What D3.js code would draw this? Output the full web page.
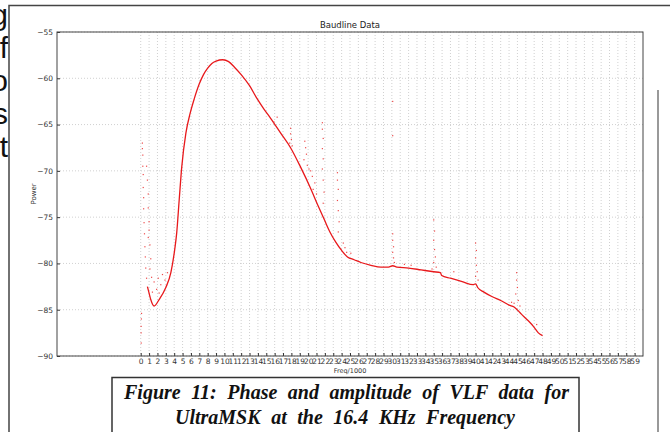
<!DOCTYPE html>
<html>
<head>
<meta charset="utf-8">
<script src="https://cdn.jsdelivr.net/npm/d3@7"></script>
<style>
  body { margin: 0; background: #fff; }
  svg { display: block; }
</style>
</head>
<body>
<div id="chart"></div>
<script>
// main trace (freq/1000, power)
const curveFreq = [0.8, 1.0, 1.2, 1.6, 2.2, 3.0, 3.6, 4.06, 4.3, 4.6, 4.9, 5.4, 5.9, 6.4, 7.0, 7.5, 8.0, 8.5, 9.0, 9.8, 10.5, 11.2, 12.0, 13.0, 13.9, 14.7, 15.5, 16.7, 17.9, 19.1, 20.3, 21.2, 21.9, 22.6, 23.3, 24.0, 24.7, 25.5, 26.3, 27.5, 28.7, 29.6, 30.1, 30.6, 32.0, 33.5, 35.0, 35.8, 35.95, 37.0, 38.5, 39.7, 40.0, 40.25, 41.0, 42.0, 43.0, 44.0, 44.6, 45.5, 46.3, 47.0, 47.5, 48.0];
const curvePower = [-82.5, -83.2, -83.9, -84.6, -83.9, -82.6, -81.0, -78.5, -76.7, -73.1, -69.6, -65.9, -63.8, -62.2, -60.6, -59.6, -58.9, -58.4, -58.15, -58.0, -58.2, -58.8, -59.6, -60.8, -62.2, -63.3, -64.3, -65.9, -67.5, -69.6, -71.9, -73.8, -75.2, -76.6, -77.7, -78.6, -79.3, -79.6, -79.9, -80.2, -80.4, -80.4, -80.25, -80.4, -80.5, -80.7, -80.9, -81.0, -81.3, -81.6, -82.0, -82.3, -82.2, -82.6, -83.1, -83.6, -84.0, -84.5, -84.7, -85.5, -86.2, -86.9, -87.5, -87.8];

// scattered outliers (spikes)
const spikeFreq = [0.05, 0.05, 0.08, 0.1, 0.06, 0.2, 0.2, 0.25, 0.25, 0.3, 0.3, 0.35, 0.35, 0.4, 0.45, 0.5, 0.55, 0.6, 0.7,
  0.7, 0.8, 0.9, 0.9, 1.0, 1.0, 0.9, 1.1, 1.2, 1.1, 1.3,
  1.4, 1.6, 1.9, 2.1, 2.2, 2.4, 2.6, 2.9, 3.2,
  15.9, 16.3,
  17.9, 17.9, 18.0, 17.8, 18.1,
  19.6, 19.7, 19.8, 19.5, 19.9, 20.1, 20.3, 20.5, 20.8, 20.6, 21.0,
  21.7, 21.7, 21.8, 21.7, 21.8, 21.7, 21.8, 21.9, 21.8,
  23.5, 23.5, 23.6, 23.5, 23.6, 23.7, 23.6,
  24.2, 24.4, 24.6, 25.1,
  30.1, 30.1, 30.1, 30.1, 30.2, 30.1, 30.2, 30.3, 31.5, 32.3,
  35.0, 35.1, 35.0, 35.1, 35.2, 35.0, 35.3, 34.8, 37.4,
  40.0, 40.1, 40.0, 40.1, 40.2, 40.0, 40.3,
  44.9, 44.9, 45.0, 44.8, 45.1, 44.6, 44.3, 45.3, 47.3];
const spikePower = [-87.5, -86.8, -86.0, -85.4, -88.6, -67.0, -67.6, -68.3, -69.5, -70.4, -71.8, -72.9, -74.1, -75.6, -76.8, -78.2, -79.3, -80.5, -81.6,
  -69.5, -71.0, -72.5, -74.0, -75.5, -76.4, -77.2, -78.0, -79.5, -80.6, -81.5,
  -83.1, -82.0, -82.8, -81.6, -83.2, -82.3, -81.2, -81.8, -81.0,
  -64.7, -64.2,
  -65.4, -66.0, -66.6, -67.0, -67.3,
  -66.8, -67.5, -68.2, -68.8, -69.4, -69.8, -70.0, -70.6, -71.3, -72.0, -72.5,
  -64.8, -65.5, -66.5, -67.6, -68.7, -69.8, -71.0, -72.3, -73.5,
  -70.2, -71.0, -72.0, -73.2, -74.3, -75.5, -76.6,
  -77.8, -78.3, -78.8, -78.9,
  -62.5, -66.2, -76.8, -77.5, -78.2, -78.8, -79.4, -79.9, -80.1, -80.2,
  -75.3, -76.5, -77.5, -78.5, -79.3, -79.9, -80.4, -80.6, -80.9,
  -77.8, -78.6, -79.4, -80.2, -80.9, -81.4, -81.8,
  -81.0, -81.8, -82.6, -83.3, -84.0, -84.3, -84.2, -84.6, -86.6];

const xTicks = d3.range(0, 60);
const yTicks = [-90, -85, -80, -75, -70, -65, -60, -55];
const sideLetters = ["g", "f", "o", "s", "t"];
const captionLines = ["Figure 11: Phase and amplitude of VLF data for", "UltraMSK at the 16.4 KHz Frequency"];

const W = 670, H = 432;
const svg = d3.select("#chart").append("svg")
    .attr("width", W)
    .attr("height", H);

// page bits around the figure (text column cut off at the left)
svg.selectAll(".side")
    .data(sideLetters)
    .enter().append("text")
    .attr("x", 8)
    .attr("y", (d, i) => 25 + i * 33)
    .attr("text-anchor", "end")
    .style("font-family", "Liberation Sans, Arial, sans-serif")
    .style("font-size", "30px")
    .attr("fill", "#111")
    .text(d => d);

svg.append("path")
    .attr("d", `M9,${H} L9,5.5 L${W},5.5`)
    .attr("fill", "none")
    .attr("stroke", "#444")
    .attr("stroke-width", 1.5);
svg.append("line")
    .attr("x1", 658).attr("x2", 658)
    .attr("y1", 90).attr("y2", H)
    .attr("stroke", "#555")
    .attr("stroke-width", 1.2);

// plot
const x = d3.scaleLinear().domain([-10, 60]).range([57, 643]);
const y = d3.scaleLinear().domain([-90, -55]).range([356, 32]);

const grid = svg.append("g").attr("class", "grid");
grid.selectAll(".vg")
    .data(xTicks)
    .enter().append("line")
    .attr("x1", d => x(d)).attr("x2", d => x(d))
    .attr("y1", y(-55)).attr("y2", y(-90))
    .attr("stroke", "#c4c4c4")
    .attr("stroke-width", 0.8)
    .attr("stroke-dasharray", "1,2");
grid.selectAll(".hg")
    .data(yTicks)
    .enter().append("line")
    .attr("x1", x(-10)).attr("x2", x(60))
    .attr("y1", d => y(d)).attr("y2", d => y(d))
    .attr("stroke", "#c4c4c4")
    .attr("stroke-width", 0.8)
    .attr("stroke-dasharray", "1,2");

const curveData = curveFreq.map((f, i) => [f, curvePower[i]]);
const spikeData = spikeFreq.map((f, i) => [f, spikePower[i]]);

const line = d3.line()
    .x(d => x(d[0]))
    .y(d => y(d[1]))
    .curve(d3.curveMonotoneX);

svg.append("path")
    .datum(curveData)
    .attr("d", line)
    .attr("fill", "none")
    .attr("stroke", "#e8191c")
    .attr("stroke-width", 1.3);

svg.selectAll(".spike")
    .data(spikeData)
    .enter().append("rect")
    .attr("x", d => x(d[0]) - 0.6)
    .attr("y", d => y(d[1]) - 0.6)
    .attr("width", 1.2)
    .attr("height", 1.2)
    .attr("fill", "#ee4a4a");

// axes
const xAxis = svg.append("g")
    .attr("transform", `translate(0,${y(-90)})`)
    .call(d3.axisBottom(x).tickValues(xTicks).tickSize(-3).tickPadding(3));
const yAxis = svg.append("g")
    .attr("transform", `translate(${x(-10)},0)`)
    .call(d3.axisLeft(y).tickValues(yTicks).tickSize(-3).tickPadding(4));

[xAxis, yAxis].forEach(a => {
    a.select(".domain").remove();
    a.selectAll("line").attr("stroke", "#333");
    a.selectAll("text")
        .style("font-family", "DejaVu Sans, sans-serif")
        .style("font-size", "7.5px")
        .attr("fill", "#333");
});

svg.append("rect")
    .attr("x", x(-10)).attr("y", y(-55))
    .attr("width", x(60) - x(-10))
    .attr("height", y(-90) - y(-55))
    .attr("fill", "none")
    .attr("stroke", "#444")
    .attr("stroke-width", 1);

svg.append("text")
    .attr("x", (x(-10) + x(60)) / 2)
    .attr("y", 28)
    .attr("text-anchor", "middle")
    .style("font-family", "DejaVu Sans, sans-serif")
    .style("font-size", "8.5px")
    .attr("fill", "#222")
    .text("Baudline Data");

svg.append("text")
    .attr("x", (x(-10) + x(60)) / 2)
    .attr("y", 373)
    .attr("text-anchor", "middle")
    .style("font-family", "DejaVu Sans, sans-serif")
    .style("font-size", "6.5px")
    .attr("fill", "#333")
    .text("Freq/1000");

svg.append("text")
    .attr("transform", "translate(36,194) rotate(-90)")
    .attr("text-anchor", "middle")
    .style("font-family", "DejaVu Sans, sans-serif")
    .style("font-size", "7px")
    .attr("fill", "#333")
    .text("Power");

// caption box
svg.append("rect")
    .attr("x", 112).attr("y", 377.5)
    .attr("width", 467).attr("height", 70)
    .attr("fill", "#fff")
    .attr("stroke", "#333")
    .attr("stroke-width", 1.5);

const capX = [124, 175];
const capW = [445, 340];
const capY = [399, 424];
svg.selectAll(".cap")
    .data(captionLines)
    .enter().append("text")
    .attr("class", "cap")
    .attr("x", (d, i) => capX[i])
    .attr("y", (d, i) => capY[i])
    .style("font-family", "Liberation Serif, Times New Roman, serif")
    .style("font-size", "20px")
    .style("font-weight", "bold")
    .style("font-style", "italic")
    .attr("fill", "#111")
    .text(d => d)
    .each(function(d, i) {
        // justify like the paper: spread the gaps between words
        const natural = this.getComputedTextLength();
        const gaps = d.split(" ").length - 1;
        const extra = (capW[i] - natural) / gaps;
        d3.select(this).style("word-spacing", extra + "px");
    });
</script>
</body>
</html>
